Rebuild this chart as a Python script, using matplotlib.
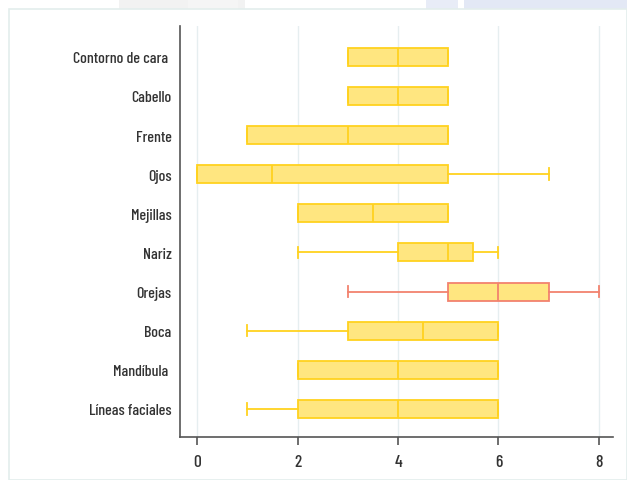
import matplotlib
matplotlib.use("Agg")
import matplotlib.pyplot as plt
from matplotlib.patches import Rectangle

plt.rcParams["font.family"] = ["Barlow Condensed", "DejaVu Sans"]

categories = ["Contorno de cara ", "Cabello", "Frente", "Ojos", "Mejillas",
              "Nariz", "Orejas", "Boca", "Mandíbula ", "Líneas faciales"]
whisker_low = [3, 3, 1, 0, 2, 2, 3, 1, 2, 1]
q1 = [3, 3, 1, 0, 2, 4, 5, 3, 2, 2]
median = [4, 4, 3, 1.5, 3.5, 5, 6, 4.5, 4, 4]
q3 = [5, 5, 5, 5, 5, 5.5, 7, 6, 6, 6]
whisker_high = [5, 5, 5, 7, 5, 6, 8, 6, 6, 6]
highlight = "Orejas"
x_ticks = [0, 2, 4, 6, 8]

fill = "#FFE680"
edge = "#FFD21F"
edge_hi = "#F2826E"
text_col = "#333333"

fig = plt.figure(figsize=(6.27, 4.81), dpi=100)
fig.patch.set_facecolor("white")

# faint banner shapes along the top edge
for x0, w, c in [(0.19, 0.2, "#F2F2F2"), (0.3, 0.08, "#F5F5F5"),
                 (0.68, 0.05, "#E8ECF7"), (0.74, 0.26, "#E3E8F5")]:
    fig.add_artist(Rectangle((x0, 0.975), w, 0.03, transform=fig.transFigure,
                             facecolor=c, edgecolor="none", zorder=0))

# card panel
fig.add_artist(Rectangle((9 / 627, 0), 1 - 9 / 627, 1 - 10 / 481,
                         transform=fig.transFigure, facecolor="white",
                         edgecolor="#E3EEEC", linewidth=1.2, zorder=1))

ax = fig.add_axes([180 / 627, 1 - 438 / 481, (613 - 180) / 627, (438 - 27) / 481])
ax.set_zorder(2)
ax.set_facecolor("none")

n = len(categories)
positions = list(range(n))
stats = []
for i, name in enumerate(categories):
    stats.append(dict(label=name.strip(), whislo=whisker_low[i], q1=q1[i], med=median[i],
                      q3=q3[i], whishi=whisker_high[i], fliers=[]))

for i, s in enumerate(stats):
    ec = edge_hi if s["label"] == highlight else edge
    ax.bxp([s], positions=[positions[i]], vert=False, widths=0.46,
           patch_artist=True, showfliers=False, manage_ticks=False,
           boxprops=dict(facecolor=fill, edgecolor=ec, linewidth=1.3),
           medianprops=dict(color=ec, linewidth=1.3),
           whiskerprops=dict(color=ec, linewidth=1.3),
           capprops=dict(color=ec, linewidth=1.3), capwidths=0.3)

ax.set_yticks(positions)
ax.set_yticklabels(categories)
ax.set_ylim(n - 1 + 0.72, -0.79)
ax.set_xlim(-0.34, 8.28)
ax.set_xticks(x_ticks)
ax.set_xticklabels([str(t) for t in x_ticks])

ax.grid(axis="x", color="#E6EEF0", linewidth=1.0)
ax.set_axisbelow(True)
for side in ["top", "right"]:
    ax.spines[side].set_visible(False)
for side in ["left", "bottom"]:
    ax.spines[side].set_color("#555555")
    ax.spines[side].set_linewidth(1.2)
ax.tick_params(axis="y", length=0, pad=6, labelsize=11.5, labelcolor=text_col)
ax.tick_params(axis="x", length=6, width=1.2, color="#555555", pad=6,
               labelsize=12.5, labelcolor=text_col)
for lab in ax.get_yticklabels() + ax.get_xticklabels():
    lab.set_fontweight("medium")

fig.savefig("out.png", dpi=100)
